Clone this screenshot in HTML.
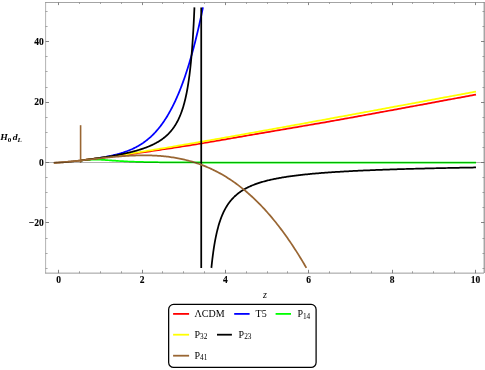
<!DOCTYPE html>
<html><head><meta charset="utf-8"><title>plot</title>
<style>html,body{margin:0;padding:0;background:#fff;font-family:"Liberation Serif",serif;}svg{display:block;will-change:transform}</style></head>
<body>
<svg width="485" height="370" viewBox="0 0 485 370">
<rect width="485" height="370" fill="#fff"/>
<path d="M80.79,160.43L82.77,160.20L84.76,159.96L86.74,159.72L88.73,159.47L90.72,159.22L92.70,158.97L94.69,158.71L96.67,158.45L98.66,158.19L100.65,157.93L102.63,157.69L104.62,157.45L106.60,157.21L108.59,156.97L110.58,156.73L112.56,156.49L114.55,156.24L116.53,156.00L118.52,155.74L120.51,155.48L122.49,155.22L124.48,154.95L126.46,154.68L128.45,154.40L130.44,154.13L132.42,153.85L134.41,153.57L136.39,153.28L138.38,153.00L140.37,152.71L142.35,152.43L144.34,152.14L146.32,151.85L148.31,151.56L150.30,151.26L152.28,150.97L154.27,150.68L156.25,150.39L158.24,150.09L160.23,149.80L162.21,149.50L164.20,149.21L166.18,148.91L168.17,148.62L170.16,148.32L172.14,148.02L174.13,147.72L176.11,147.42L178.10,147.12L180.09,146.82L182.07,146.51L184.06,146.20L186.04,145.89L188.03,145.58L190.02,145.27L192.00,144.95L193.99,144.64L195.97,144.32L197.96,143.99L199.95,143.67L201.93,143.34L203.92,143.01L205.90,142.67L207.89,142.34L209.88,142.00L211.86,141.67L213.85,141.33L215.83,140.99L217.82,140.65L219.81,140.31L221.79,139.96L223.78,139.62L225.76,139.28L227.75,138.94L229.74,138.59L231.72,138.25L233.71,137.91L235.69,137.56L237.68,137.22L239.67,136.88L241.65,136.53L243.64,136.19L245.62,135.85L247.61,135.51L249.60,135.17L251.58,134.83L253.57,134.49L255.55,134.15L257.54,133.81L259.53,133.47L261.51,133.13L263.50,132.79L265.48,132.46L267.47,132.12L269.46,131.78L271.44,131.44L273.43,131.10L275.41,130.76L277.40,130.42L279.39,130.08L281.37,129.74L283.36,129.40L285.34,129.06L287.33,128.72L289.32,128.38L291.30,128.04L293.29,127.70L295.27,127.36L297.26,127.02L299.25,126.68L301.23,126.34L303.22,126.00L305.20,125.66L307.19,125.32L309.18,124.99L311.16,124.65L313.15,124.31L315.13,123.97L317.12,123.64L319.11,123.30L321.09,122.95L323.08,122.61L325.06,122.27L327.05,121.92L329.04,121.57L331.02,121.22L333.01,120.87L334.99,120.51L336.98,120.16L338.97,119.80L340.95,119.44L342.94,119.08L344.92,118.73L346.91,118.37L348.90,118.01L350.88,117.65L352.87,117.29L354.85,116.93L356.84,116.57L358.83,116.21L360.81,115.85L362.80,115.49L364.78,115.12L366.77,114.76L368.76,114.40L370.74,114.04L372.73,113.68L374.71,113.31L376.70,112.95L378.69,112.58L380.67,112.22L382.66,111.86L384.64,111.49L386.63,111.13L388.62,110.76L390.60,110.39L392.59,110.03L394.57,109.66L396.56,109.30L398.55,108.93L400.53,108.56L402.52,108.20L404.50,107.83L406.49,107.46L408.48,107.10L410.46,106.73L412.45,106.36L414.43,105.99L416.42,105.63L418.41,105.26L420.39,104.89L422.38,104.52L424.36,104.16L426.35,103.79L428.34,103.42L430.32,103.05L432.31,102.68L434.29,102.31L436.28,101.95L438.27,101.58L440.25,101.21L442.24,100.84L444.22,100.47L446.21,100.10L448.20,99.73L450.18,99.36L452.17,98.99L454.15,98.63L456.14,98.26L458.13,97.89L460.11,97.52L462.10,97.15L464.08,96.78L466.07,96.41L468.06,96.04L470.04,95.67L472.03,95.30L474.01,94.92L476.00,94.55" stroke="#ff0000" stroke-width="1.75" fill="none" stroke-linejoin="round"/>
<path d="M80.79,160.42L81.40,160.35L82.01,160.28L82.63,160.20L83.24,160.13L83.86,160.06L84.47,159.98L85.08,159.90L85.70,159.83L86.31,159.75L86.93,159.67L87.54,159.59L88.15,159.51L88.77,159.43L89.38,159.35L90.00,159.27L90.61,159.19L91.22,159.10L91.84,159.02L92.45,158.93L93.07,158.85L93.68,158.76L94.29,158.67L94.91,158.58L95.52,158.49L96.14,158.40L96.75,158.31L97.36,158.21L97.98,158.12L98.59,158.02L99.21,157.92L99.82,157.83L100.43,157.73L101.05,157.62L101.66,157.52L102.28,157.42L102.89,157.31L103.50,157.20L104.12,157.10L104.73,156.99L105.35,156.87L105.96,156.76L106.57,156.64L107.19,156.52L107.80,156.40L108.42,156.28L109.03,156.16L109.64,156.03L110.26,155.90L110.87,155.77L111.48,155.64L112.10,155.50L112.71,155.37L113.33,155.22L113.94,155.08L114.55,154.93L115.17,154.78L115.78,154.63L116.40,154.48L117.01,154.32L117.62,154.16L118.24,153.99L118.85,153.82L119.47,153.65L120.08,153.47L120.69,153.29L121.31,153.11L121.92,152.92L122.54,152.73L123.15,152.53L123.76,152.33L124.38,152.12L124.99,151.91L125.61,151.70L126.22,151.48L126.83,151.25L127.45,151.02L128.06,150.79L128.68,150.55L129.29,150.30L129.90,150.05L130.52,149.79L131.13,149.52L131.75,149.25L132.36,148.98L132.97,148.69L133.59,148.40L134.20,148.10L134.82,147.80L135.43,147.49L136.04,147.17L136.66,146.84L137.27,146.51L137.89,146.17L138.50,145.82L139.11,145.46L139.73,145.09L140.34,144.71L140.96,144.33L141.57,143.93L142.18,143.53L142.80,143.12L143.41,142.69L144.03,142.26L144.64,141.82L145.25,141.36L145.87,140.90L146.48,140.43L147.10,139.94L147.71,139.44L148.32,138.93L148.94,138.41L149.55,137.88L150.17,137.33L150.78,136.78L151.39,136.20L152.01,135.62L152.62,135.02L153.24,134.41L153.85,133.79L154.46,133.15L155.08,132.50L155.69,131.83L156.31,131.14L156.92,130.45L157.53,129.73L158.15,129.00L158.76,128.26L159.38,127.49L159.99,126.71L160.60,125.92L161.22,125.10L161.83,124.27L162.45,123.42L163.06,122.55L163.67,121.66L164.29,120.76L164.90,119.83L165.52,118.89L166.13,117.92L166.74,116.93L167.36,115.93L167.97,114.90L168.59,113.85L169.20,112.78L169.81,111.68L170.43,110.57L171.04,109.43L171.66,108.26L172.27,107.08L172.88,105.86L173.50,104.63L174.11,103.37L174.73,102.08L175.34,100.77L175.95,99.43L176.57,98.07L177.18,96.67L177.80,95.25L178.41,93.81L179.02,92.33L179.64,90.82L180.25,89.29L180.87,87.73L181.48,86.13L182.09,84.51L182.71,82.85L183.32,81.16L183.94,79.44L184.55,77.69L185.16,75.91L185.78,74.09L186.39,72.23L187.01,70.35L187.62,68.42L188.23,66.47L188.85,64.47L189.46,62.44L190.08,60.37L190.69,58.27L191.30,56.13L191.92,53.94L192.53,51.72L193.15,49.46L193.76,47.16L194.37,44.82L194.99,42.44L195.60,40.01L196.22,37.54L196.83,35.03L197.44,32.48L198.06,29.88L198.67,27.23L199.29,24.54L199.90,21.81L200.51,19.02L201.13,16.19L201.74,13.31L202.36,10.39L202.97,7.41" stroke="#0000ff" stroke-width="1.75" fill="none" stroke-linejoin="round"/>
<path d="M80.79,160.49L82.11,160.36L83.43,160.24L84.75,160.12L86.07,160.01L87.39,159.92L88.72,159.83L90.04,159.76L91.36,159.70L92.68,159.66L94.00,159.64L95.32,159.63L96.65,159.64L97.97,159.66L99.29,159.70L100.61,159.75L101.93,159.81L103.26,159.89L104.58,159.97L105.90,160.06L107.22,160.15L108.54,160.25L109.86,160.35L111.19,160.45L112.51,160.54L113.83,160.64L115.15,160.73L116.47,160.83L117.80,160.91L119.12,161.00L120.44,161.08L121.76,161.16L123.08,161.23L124.40,161.31L125.73,161.37L127.05,161.44L128.37,161.50L129.69,161.56L131.01,161.61L132.33,161.66L133.66,161.71L134.98,161.75L136.30,161.80L137.62,161.84L138.94,161.88L140.27,161.91L141.59,161.95L142.91,161.98L144.23,162.01L145.55,162.04L146.87,162.07L148.20,162.09L149.52,162.12L150.84,162.14L152.16,162.16L153.48,162.18L154.81,162.20L156.13,162.22L157.45,162.24L158.77,162.25L160.09,162.27L161.41,162.29L162.74,162.30L164.06,162.31L165.38,162.33L166.70,162.34L168.02,162.35L169.34,162.36L170.67,162.37L171.99,162.38L173.31,162.38L174.63,162.39L175.95,162.40L177.28,162.41L178.60,162.41L179.92,162.42L181.24,162.43L182.56,162.43L183.88,162.44L185.21,162.45L186.53,162.45L187.85,162.46L189.17,162.46L190.49,162.47L191.82,162.47L193.14,162.47L194.46,162.48L195.78,162.48L197.10,162.49L198.42,162.49L199.75,162.49L201.07,162.50L202.39,162.50L203.71,162.50L205.03,162.51L206.36,162.51L207.68,162.51L209.00,162.52L210.32,162.52L211.64,162.52L212.96,162.52L214.29,162.53L215.61,162.53L216.93,162.53L218.25,162.53L219.57,162.53L220.89,162.54L222.22,162.54L223.54,162.54L224.86,162.54L226.18,162.54L227.50,162.54L228.83,162.55L230.15,162.55L231.47,162.55L232.79,162.55L234.11,162.55L235.43,162.55L236.76,162.56L238.08,162.56L239.40,162.56L240.72,162.56L242.04,162.56L243.37,162.56L244.69,162.56L246.01,162.56L247.33,162.56L248.65,162.57L249.97,162.57L251.30,162.57L252.62,162.57L253.94,162.57L255.26,162.57L256.58,162.57L257.90,162.57L259.23,162.57L260.55,162.57L261.87,162.57L263.19,162.57L264.51,162.58L265.84,162.58L267.16,162.58L268.48,162.58L269.80,162.58L271.12,162.58L272.44,162.58L273.77,162.58L275.09,162.58L276.41,162.58L277.73,162.58L279.05,162.58L280.38,162.58L281.70,162.58L283.02,162.58L284.34,162.58L285.66,162.58L286.98,162.59L288.31,162.59L289.63,162.59L290.95,162.59L292.27,162.59L293.59,162.59L294.91,162.59L296.24,162.59L297.56,162.59L298.88,162.59L300.20,162.59L301.52,162.59L302.85,162.59L304.17,162.59L305.49,162.59L306.81,162.59L308.13,162.59L309.45,162.59L310.78,162.59L312.10,162.59L313.42,162.59L314.74,162.59L316.06,162.59L317.39,162.59L318.71,162.59L320.03,162.59L321.35,162.59L322.67,162.59L323.99,162.59L325.32,162.59L326.64,162.59L327.96,162.60L329.28,162.60L330.60,162.60L331.93,162.60L333.25,162.60L334.57,162.60L335.89,162.60L337.21,162.60L338.53,162.60L339.86,162.60L341.18,162.60L342.50,162.60L343.82,162.60L345.14,162.60L346.46,162.60L347.79,162.60L349.11,162.60L350.43,162.60L351.75,162.60L353.07,162.60L354.40,162.60L355.72,162.60L357.04,162.60L358.36,162.60L359.68,162.60L361.00,162.60L362.33,162.60L363.65,162.60L364.97,162.60L366.29,162.60L367.61,162.60L368.94,162.60L370.26,162.60L371.58,162.60L372.90,162.60L374.22,162.60L375.54,162.60L376.87,162.60L378.19,162.60L379.51,162.60L380.83,162.60L382.15,162.60L383.47,162.60L384.80,162.60L386.12,162.60L387.44,162.60L388.76,162.60L390.08,162.60L391.41,162.60L392.73,162.60L394.05,162.60L395.37,162.60L396.69,162.60L398.01,162.60L399.34,162.60L400.66,162.60L401.98,162.60L403.30,162.60L404.62,162.60L405.95,162.60L407.27,162.60L408.59,162.60L409.91,162.60L411.23,162.60L412.55,162.60L413.88,162.60L415.20,162.60L416.52,162.60L417.84,162.60L419.16,162.60L420.48,162.60L421.81,162.60L423.13,162.60L424.45,162.60L425.77,162.60L427.09,162.60L428.42,162.60L429.74,162.60L431.06,162.60L432.38,162.60L433.70,162.60L435.02,162.60L436.35,162.60L437.67,162.60L438.99,162.60L440.31,162.61L441.63,162.61L442.96,162.61L444.28,162.61L445.60,162.61L446.92,162.61L448.24,162.61L449.56,162.61L450.89,162.61L452.21,162.61L453.53,162.61L454.85,162.61L456.17,162.61L457.49,162.61L458.82,162.61L460.14,162.61L461.46,162.61L462.78,162.61L464.10,162.61L465.43,162.61L466.75,162.61L468.07,162.61L469.39,162.61L470.71,162.61L472.03,162.61L473.36,162.61L474.68,162.61L476.00,162.61" stroke="#00ff00" stroke-width="1.75" fill="none" stroke-linejoin="round"/>
<path d="M80.79,160.43L82.77,160.20L84.76,159.96L86.74,159.72L88.73,159.47L90.72,159.22L92.70,158.97L94.69,158.71L96.67,158.44L98.66,158.18L100.65,157.91L102.63,157.63L104.62,157.36L106.60,157.08L108.59,156.80L110.58,156.51L112.56,156.22L114.55,155.93L116.53,155.64L118.52,155.34L120.51,155.05L122.49,154.75L124.48,154.44L126.46,154.14L128.45,153.84L130.44,153.53L132.42,153.22L134.41,152.91L136.39,152.59L138.38,152.28L140.37,151.96L142.35,151.65L144.34,151.33L146.32,151.01L148.31,150.69L150.30,150.36L152.28,150.04L154.27,149.72L156.25,149.39L158.24,149.06L160.23,148.73L162.21,148.40L164.20,148.07L166.18,147.74L168.17,147.41L170.16,147.08L172.14,146.74L174.13,146.41L176.11,146.07L178.10,145.73L180.09,145.40L182.07,145.06L184.06,144.72L186.04,144.38L188.03,144.04L190.02,143.70L192.00,143.36L193.99,143.01L195.97,142.67L197.96,142.33L199.95,141.98L201.93,141.64L203.92,141.29L205.90,140.95L207.89,140.60L209.88,140.25L211.86,139.91L213.85,139.56L215.83,139.21L217.82,138.86L219.81,138.51L221.79,138.16L223.78,137.81L225.76,137.46L227.75,137.11L229.74,136.76L231.72,136.40L233.71,136.05L235.69,135.70L237.68,135.34L239.67,134.99L241.65,134.64L243.64,134.28L245.62,133.93L247.61,133.57L249.60,133.22L251.58,132.86L253.57,132.51L255.55,132.15L257.54,131.79L259.53,131.44L261.51,131.08L263.50,130.72L265.48,130.36L267.47,130.01L269.46,129.65L271.44,129.29L273.43,128.93L275.41,128.57L277.40,128.21L279.39,127.85L281.37,127.49L283.36,127.13L285.34,126.77L287.33,126.41L289.32,126.05L291.30,125.69L293.29,125.33L295.27,124.97L297.26,124.61L299.25,124.25L301.23,123.88L303.22,123.52L305.20,123.16L307.19,122.80L309.18,122.43L311.16,122.07L313.15,121.71L315.13,121.35L317.12,120.98L319.11,120.62L321.09,120.26L323.08,119.89L325.06,119.53L327.05,119.16L329.04,118.80L331.02,118.44L333.01,118.07L334.99,117.71L336.98,117.34L338.97,116.98L340.95,116.61L342.94,116.25L344.92,115.88L346.91,115.52L348.90,115.15L350.88,114.78L352.87,114.42L354.85,114.05L356.84,113.69L358.83,113.32L360.81,112.95L362.80,112.59L364.78,112.22L366.77,111.85L368.76,111.49L370.74,111.12L372.73,110.75L374.71,110.39L376.70,110.02L378.69,109.65L380.67,109.28L382.66,108.92L384.64,108.55L386.63,108.18L388.62,107.81L390.60,107.45L392.59,107.08L394.57,106.71L396.56,106.34L398.55,105.97L400.53,105.60L402.52,105.24L404.50,104.87L406.49,104.50L408.48,104.13L410.46,103.76L412.45,103.39L414.43,103.02L416.42,102.66L418.41,102.29L420.39,101.92L422.38,101.55L424.36,101.18L426.35,100.81L428.34,100.44L430.32,100.07L432.31,99.70L434.29,99.33L436.28,98.96L438.27,98.59L440.25,98.22L442.24,97.85L444.22,97.48L446.21,97.11L448.20,96.74L450.18,96.37L452.17,96.00L454.15,95.63L456.14,95.26L458.13,94.89L460.11,94.52L462.10,94.15L464.08,93.78L466.07,93.41L468.06,93.04L470.04,92.67L472.03,92.30L474.01,91.93L476.00,91.55" stroke="#ffff00" stroke-width="1.75" fill="none" stroke-linejoin="round"/>
<path d="M80.79,160.43L81.17,160.38L81.55,160.34L81.93,160.29L82.31,160.25L82.69,160.20L83.07,160.16L83.45,160.11L83.83,160.07L84.21,160.02L84.59,159.97L84.97,159.93L85.35,159.88L85.73,159.83L86.11,159.79L86.49,159.74L86.87,159.69L87.25,159.64L87.63,159.60L88.01,159.55L88.39,159.50L88.77,159.45L89.15,159.40L89.53,159.35L89.91,159.30L90.29,159.25L90.67,159.20L91.05,159.15L91.43,159.10L91.81,159.05L92.19,159.00L92.57,158.95L92.95,158.90L93.33,158.85L93.71,158.80L94.09,158.75L94.47,158.69L94.85,158.64L95.23,158.59L95.61,158.54L95.99,158.48L96.37,158.43L96.75,158.38L97.13,158.32L97.51,158.27L97.89,158.21L98.27,158.16L98.65,158.11L99.03,158.05L99.41,158.00L99.79,157.94L100.17,157.88L100.55,157.83L100.93,157.77L101.31,157.72L101.69,157.66L102.07,157.60L102.45,157.54L102.83,157.49L103.21,157.43L103.59,157.37L103.97,157.31L104.35,157.25L104.73,157.19L105.11,157.13L105.49,157.07L105.87,157.01L106.25,156.95L106.63,156.89L107.01,156.83L107.39,156.77L107.77,156.71L108.15,156.65L108.53,156.58L108.91,156.52L109.29,156.46L109.68,156.40L110.06,156.33L110.44,156.27L110.82,156.20L111.20,156.14L111.58,156.07L111.96,156.01L112.34,155.94L112.72,155.88L113.10,155.81L113.48,155.74L113.86,155.67L114.24,155.61L114.62,155.54L115.00,155.47L115.38,155.40L115.76,155.33L116.14,155.26L116.52,155.19L116.90,155.12L117.28,155.05L117.66,154.97L118.04,154.90L118.42,154.83L118.80,154.76L119.18,154.68L119.56,154.61L119.94,154.53L120.32,154.46L120.70,154.38L121.08,154.30L121.46,154.23L121.84,154.15L122.22,154.07L122.60,153.99L122.98,153.91L123.36,153.83L123.74,153.75L124.12,153.67L124.50,153.59L124.88,153.51L125.26,153.43L125.64,153.34L126.02,153.26L126.40,153.17L126.78,153.09L127.16,153.00L127.54,152.91L127.92,152.83L128.30,152.74L128.68,152.65L129.06,152.56L129.44,152.47L129.82,152.38L130.20,152.28L130.58,152.19L130.96,152.10L131.34,152.00L131.72,151.91L132.10,151.81L132.48,151.71L132.86,151.61L133.24,151.51L133.62,151.41L134.00,151.31L134.38,151.21L134.76,151.11L135.14,151.00L135.52,150.90L135.90,150.79L136.28,150.69L136.66,150.58L137.04,150.47L137.42,150.36L137.80,150.25L138.18,150.13L138.56,150.02L138.95,149.91L139.33,149.79L139.71,149.67L140.09,149.55L140.47,149.43L140.85,149.31L141.23,149.19L141.61,149.07L141.99,148.94L142.37,148.81L142.75,148.68L143.13,148.55L143.51,148.42L143.89,148.29L144.27,148.16L144.65,148.02L145.03,147.88L145.41,147.74L145.79,147.60L146.17,147.46L146.55,147.31L146.93,147.17L147.31,147.02L147.69,146.87L148.07,146.72L148.45,146.56L148.83,146.41L149.21,146.25L149.59,146.09L149.97,145.92L150.35,145.76L150.73,145.59L151.11,145.42L151.49,145.25L151.87,145.08L152.25,144.90L152.63,144.72L153.01,144.54L153.39,144.35L153.77,144.17L154.15,143.97L154.53,143.78L154.91,143.59L155.29,143.39L155.67,143.18L156.05,142.98L156.43,142.77L156.81,142.56L157.19,142.34L157.57,142.12L157.95,141.90L158.33,141.67L158.71,141.44L159.09,141.21L159.47,140.97L159.85,140.72L160.23,140.48L160.61,140.23L160.99,139.97L161.37,139.71L161.75,139.44L162.13,139.17L162.51,138.90L162.89,138.62L163.27,138.33L163.65,138.04L164.03,137.74L164.41,137.44L164.79,137.13L165.17,136.81L165.55,136.49L165.93,136.16L166.31,135.82L166.69,135.48L167.07,135.13L167.45,134.77L167.84,134.40L168.22,134.03L168.60,133.64L168.98,133.25L169.36,132.85L169.74,132.44L170.12,132.02L170.50,131.59L170.88,131.15L171.26,130.69L171.64,130.23L172.02,129.75L172.40,129.27L172.78,128.76L173.16,128.25L173.54,127.72L173.92,127.18L174.30,126.62L174.68,126.05L175.06,125.46L175.44,124.85L175.82,124.22L176.20,123.58L176.58,122.92L176.96,122.23L177.34,121.53L177.72,120.80L178.10,120.04L178.48,119.27L178.86,118.46L179.24,117.63L179.62,116.77L180.00,115.88L180.38,114.96L180.76,114.00L181.14,113.01L181.52,111.97L181.90,110.90L182.28,109.79L182.66,108.62L183.04,107.42L183.42,106.15L183.80,104.84L184.18,103.46L184.56,102.02L184.94,100.52L185.32,98.94L185.70,97.29L186.08,95.55L186.46,93.72L186.84,91.80L187.22,89.77L187.60,87.63L187.98,85.36L188.36,82.96L188.74,80.41L189.12,77.70L189.50,74.81L189.88,71.73L190.26,68.43L190.64,64.90L191.02,61.10L191.40,57.00L191.78,52.56L192.16,47.76L192.54,42.52L192.92,36.80L193.30,30.53L193.68,23.61L194.06,15.95L194.44,7.41" stroke="#000" stroke-width="1.75" fill="none" stroke-linejoin="round"/>
<path d="M201.23,7.4L201.23,267.9" stroke="#000" stroke-width="1.75" fill="none"/>
<path d="M211.39,267.89L211.40,267.86L211.40,267.77L211.42,267.62L211.44,267.42L211.47,267.15L211.50,266.83L211.54,266.46L211.58,266.03L211.63,265.55L211.69,265.01L211.75,264.43L211.82,263.80L211.89,263.12L211.97,262.40L212.06,261.64L212.15,260.83L212.25,259.99L212.35,259.12L212.46,258.21L212.58,257.27L212.70,256.31L212.82,255.32L212.96,254.30L213.10,253.27L213.24,252.21L213.39,251.14L213.55,250.06L213.71,248.96L213.88,247.85L214.06,246.73L214.24,245.61L214.42,244.48L214.62,243.35L214.81,242.22L215.02,241.08L215.23,239.95L215.44,238.82L215.67,237.69L215.89,236.57L216.13,235.46L216.37,234.35L216.61,233.25L216.86,232.16L217.12,231.08L217.39,230.01L217.66,228.95L217.93,227.91L218.21,226.87L218.50,225.85L218.79,224.84L219.09,223.84L219.40,222.86L219.71,221.89L220.02,220.94L220.35,220.00L220.67,219.07L221.01,218.16L221.35,217.27L221.70,216.38L222.05,215.52L222.41,214.66L222.77,213.83L223.14,213.00L223.52,212.20L223.90,211.40L224.29,210.62L224.68,209.86L225.08,209.11L225.48,208.37L225.90,207.64L226.31,206.93L226.74,206.24L227.16,205.55L227.60,204.88L228.04,204.23L228.49,203.58L228.94,202.95L229.40,202.33L229.86,201.72L230.33,201.12L230.81,200.54L231.29,199.96L231.78,199.40L232.28,198.85L232.78,198.31L233.28,197.78L233.79,197.26L234.31,196.75L234.84,196.25L235.37,195.76L235.90,195.28L236.44,194.81L236.99,194.35L237.54,193.89L238.10,193.45L238.67,193.01L239.24,192.59L239.82,192.17L240.40,191.76L240.99,191.35L241.59,190.96L242.19,190.57L242.79,190.19L243.41,189.82L244.02,189.45L244.65,189.09L245.28,188.74L245.92,188.39L246.56,188.05L247.21,187.72L247.86,187.39L248.52,187.07L249.19,186.75L249.86,186.45L250.54,186.14L251.22,185.84L251.91,185.55L252.60,185.26L253.31,184.98L254.01,184.70L254.73,184.43L255.45,184.16L256.17,183.90L256.90,183.64L257.64,183.39L258.38,183.14L259.13,182.89L259.89,182.65L260.65,182.42L261.41,182.18L262.19,181.96L262.96,181.73L263.75,181.51L264.54,181.29L265.33,181.08L266.14,180.87L266.94,180.66L267.76,180.46L268.58,180.26L269.40,180.06L270.24,179.87L271.07,179.68L271.92,179.49L272.77,179.31L273.62,179.13L274.48,178.95L275.35,178.78L276.22,178.60L277.10,178.43L277.99,178.27L278.88,178.10L279.78,177.94L280.68,177.78L281.59,177.62L282.50,177.47L283.42,177.32L284.35,177.17L285.28,177.02L286.22,176.87L287.16,176.73L288.11,176.59L289.07,176.45L290.03,176.31L291.00,176.18L291.97,176.04L292.95,175.91L293.94,175.78L294.93,175.66L295.93,175.53L296.93,175.41L297.94,175.28L298.95,175.16L299.98,175.05L301.00,174.93L302.04,174.81L303.07,174.70L304.12,174.59L305.17,174.48L306.23,174.37L307.29,174.26L308.36,174.15L309.43,174.05L310.51,173.95L311.60,173.84L312.69,173.74L313.79,173.64L314.89,173.55L316.00,173.45L317.12,173.36L318.24,173.26L319.37,173.17L320.50,173.08L321.64,172.99L322.79,172.90L323.94,172.81L325.10,172.72L326.26,172.64L327.43,172.55L328.60,172.47L329.78,172.38L330.97,172.30L332.16,172.22L333.36,172.14L334.57,172.06L335.78,171.99L336.99,171.91L338.22,171.83L339.44,171.76L340.68,171.68L341.92,171.61L343.16,171.54L344.42,171.47L345.67,171.40L346.94,171.33L348.21,171.26L349.48,171.19L350.77,171.12L352.05,171.06L353.35,170.99L354.65,170.93L355.95,170.86L357.26,170.80L358.58,170.73L359.90,170.67L361.23,170.61L362.57,170.55L363.91,170.49L365.25,170.43L366.61,170.37L367.96,170.31L369.33,170.26L370.70,170.20L372.08,170.14L373.46,170.09L374.85,170.03L376.24,169.98L377.64,169.93L379.05,169.87L380.46,169.82L381.88,169.77L383.30,169.72L384.73,169.66L386.16,169.61L387.61,169.56L389.05,169.52L390.51,169.47L391.97,169.42L393.43,169.37L394.90,169.32L396.38,169.28L397.86,169.23L399.35,169.18L400.85,169.14L402.35,169.09L403.85,169.05L405.36,169.00L406.88,168.96L408.41,168.92L409.94,168.88L411.47,168.83L413.02,168.79L414.56,168.75L416.12,168.71L417.68,168.67L419.24,168.63L420.81,168.59L422.39,168.55L423.98,168.51L425.57,168.47L427.16,168.43L428.76,168.39L430.37,168.36L431.98,168.32L433.60,168.28L435.23,168.25L436.86,168.21L438.49,168.17L440.14,168.14L441.78,168.10L443.44,168.07L445.10,168.03L446.77,168.00L448.44,167.97L450.12,167.93L451.80,167.90L453.49,167.87L455.19,167.83L456.89,167.80L458.60,167.77L460.31,167.74L462.03,167.70L463.76,167.67L465.49,167.64L467.22,167.61L468.97,167.58L470.72,167.55L472.47,167.52L474.23,167.49L476.00,167.46" stroke="#000" stroke-width="1.75" fill="none" stroke-linejoin="round"/>
<path d="M53.80,162.88L54.83,162.82L55.86,162.76L56.89,162.69L57.92,162.62L58.96,162.54L59.99,162.47L61.02,162.39L62.05,162.31L63.08,162.22L64.11,162.14L65.14,162.05L66.17,161.96L67.20,161.87L68.24,161.77L69.27,161.67L70.30,161.58L71.33,161.48L72.36,161.37L73.39,161.27L74.42,161.17L75.45,161.06L76.48,160.95L77.52,160.84L78.55,160.73L79.58,160.62L80.61,160.51L81.64,160.40L82.67,160.28L83.70,160.17" stroke="#8a5c2e" stroke-width="1.9" fill="none"/>
<path d="M53.80,162.88L55.07,162.81L56.34,162.72L57.61,162.64L58.88,162.55L60.15,162.46L61.42,162.36L62.68,162.26L63.95,162.15L65.22,162.04L66.49,161.93L67.76,161.81L69.03,161.70L70.30,161.58L71.57,161.45L72.84,161.33L74.11,161.20L75.38,161.07L76.65,160.94L77.91,160.80L79.18,160.67L80.45,160.53L81.72,160.39L82.99,160.25L84.26,160.11L85.53,159.97L86.80,159.82L88.07,159.68L89.34,159.54L90.61,159.39L91.88,159.25L93.15,159.11L94.41,158.96L95.68,158.82L96.95,158.68L98.22,158.54L99.49,158.40L100.76,158.26L102.03,158.12L103.30,157.98L104.57,157.85L105.84,157.72L107.11,157.58L108.38,157.46L109.64,157.33L110.91,157.20L112.18,157.08L113.45,156.96L114.72,156.85L115.99,156.73L117.26,156.62L118.53,156.52L119.80,156.41L121.07,156.31L122.34,156.22L123.61,156.13L124.87,156.04L126.14,155.96L127.41,155.88L128.68,155.81L129.95,155.74L131.22,155.67L132.49,155.61L133.76,155.56L135.03,155.51L136.30,155.47L137.57,155.44L138.84,155.41L140.11,155.38L141.37,155.36L142.64,155.35L143.91,155.35L145.18,155.35L146.45,155.36L147.72,155.38L148.99,155.40L150.26,155.43L151.53,155.47L152.80,155.51L154.07,155.57L155.34,155.63L156.60,155.70L157.87,155.78L159.14,155.87L160.41,155.97L161.68,156.07L162.95,156.19L164.22,156.31L165.49,156.44L166.76,156.59L168.03,156.74L169.30,156.90L170.57,157.07L171.84,157.26L173.10,157.45L174.37,157.65L175.64,157.87L176.91,158.09L178.18,158.33L179.45,158.58L180.72,158.84L181.99,159.11L183.26,159.39L184.53,159.68L185.80,159.99L187.07,160.31L188.33,160.64L189.60,160.98L190.87,161.34L192.14,161.71L193.41,162.09L194.68,162.48L195.95,162.89L197.22,163.31L198.49,163.75L199.76,164.20L201.03,164.66L202.30,165.14L203.57,165.63L204.83,166.13L206.10,166.65L207.37,167.19L208.64,167.74L209.91,168.30L211.18,168.88L212.45,169.48L213.72,170.09L214.99,170.72L216.26,171.36L217.53,172.02L218.80,172.70L220.06,173.39L221.33,174.10L222.60,174.83L223.87,175.57L225.14,176.33L226.41,177.10L227.68,177.90L228.95,178.71L230.22,179.54L231.49,180.39L232.76,181.25L234.03,182.13L235.30,183.04L236.56,183.96L237.83,184.90L239.10,185.85L240.37,186.83L241.64,187.83L242.91,188.84L244.18,189.88L245.45,190.93L246.72,192.01L247.99,193.10L249.26,194.22L250.53,195.35L251.79,196.51L253.06,197.68L254.33,198.88L255.60,200.10L256.87,201.34L258.14,202.60L259.41,203.88L260.68,205.18L261.95,206.51L263.22,207.86L264.49,209.22L265.76,210.62L267.02,212.03L268.29,213.47L269.56,214.93L270.83,216.41L272.10,217.91L273.37,219.44L274.64,221.00L275.91,222.57L277.18,224.17L278.45,225.79L279.72,227.44L280.99,229.11L282.26,230.81L283.52,232.53L284.79,234.28L286.06,236.05L287.33,237.84L288.60,239.66L289.87,241.51L291.14,243.38L292.41,245.28L293.68,247.20L294.95,249.15L296.22,251.12L297.49,253.12L298.75,255.15L300.02,257.21L301.29,259.29L302.56,261.40L303.83,263.53L305.10,265.70L306.37,267.89" stroke="#996633" stroke-width="1.75" fill="none" stroke-linejoin="round"/>
<path d="M80.6,162.6L80.6,125.2" stroke="#996633" stroke-width="1.6" fill="none"/>
<path d="M45.6,162.5L484.3,162.5" stroke="#000" stroke-opacity="0.3" stroke-width="1" fill="none"/>
<path d="M45.30,2.5L484.60,2.5" stroke="#666" stroke-width="0.6" fill="none"/>
<path d="M45.60,2.2L45.60,273.5" stroke="#666" stroke-width="0.5" fill="none"/>
<path d="M484.2,2.2L484.2,273.0" stroke="#666" stroke-width="0.85" fill="none"/>
<path d="M45.35,273.13L484.0,273.13" stroke="#666" stroke-width="0.66" fill="none"/>
<path d="M58.50,273.20L58.50,269.80M58.50,2.50L58.50,5.10M142.50,273.20L142.50,269.80M142.50,2.50L142.50,5.10M225.50,273.20L225.50,269.80M225.50,2.50L225.50,5.10M308.50,273.20L308.50,269.80M308.50,2.50L308.50,5.10M392.50,273.20L392.50,269.80M392.50,2.50L392.50,5.10M475.50,273.20L475.50,269.80M475.50,2.50L475.50,5.10M45.60,222.50L49.00,222.50M484.30,222.50L481.00,222.50M45.60,162.50L49.00,162.50M484.30,162.50L481.00,162.50M45.60,102.50L49.00,102.50M484.30,102.50L481.00,102.50M45.60,41.50L49.00,41.50M484.30,41.50L481.00,41.50" stroke="#666" stroke-opacity="0.8" stroke-width="1" fill="none"/>
<path d="M79.50,273.20L79.50,271.20M79.50,2.50L79.50,4.00M100.50,273.20L100.50,271.20M100.50,2.50L100.50,4.00M121.50,273.20L121.50,271.20M121.50,2.50L121.50,4.00M162.50,273.20L162.50,271.20M162.50,2.50L162.50,4.00M183.50,273.20L183.50,271.20M183.50,2.50L183.50,4.00M204.50,273.20L204.50,271.20M204.50,2.50L204.50,4.00M246.50,273.20L246.50,271.20M246.50,2.50L246.50,4.00M267.50,273.20L267.50,271.20M267.50,2.50L267.50,4.00M287.50,273.20L287.50,271.20M287.50,2.50L287.50,4.00M329.50,273.20L329.50,271.20M329.50,2.50L329.50,4.00M350.50,273.20L350.50,271.20M350.50,2.50L350.50,4.00M371.50,273.20L371.50,271.20M371.50,2.50L371.50,4.00M412.50,273.20L412.50,271.20M412.50,2.50L412.50,4.00M433.50,273.20L433.50,271.20M433.50,2.50L433.50,4.00M454.50,273.20L454.50,271.20M454.50,2.50L454.50,4.00M45.60,268.50L47.60,268.50M484.30,268.50L482.40,268.50M45.60,253.50L47.60,253.50M484.30,253.50L482.40,253.50M45.60,238.50L47.60,238.50M484.30,238.50L482.40,238.50M45.60,207.50L47.60,207.50M484.30,207.50L482.40,207.50M45.60,192.50L47.60,192.50M484.30,192.50L482.40,192.50M45.60,177.50L47.60,177.50M484.30,177.50L482.40,177.50M45.60,147.50L47.60,147.50M484.30,147.50L482.40,147.50M45.60,132.50L47.60,132.50M484.30,132.50L482.40,132.50M45.60,117.50L47.60,117.50M484.30,117.50L482.40,117.50M45.60,87.50L47.60,87.50M484.30,87.50L482.40,87.50M45.60,71.50L47.60,71.50M484.30,71.50L482.40,71.50M45.60,56.50L47.60,56.50M484.30,56.50L482.40,56.50M45.60,26.50L47.60,26.50M484.30,26.50L482.40,26.50M45.60,11.50L47.60,11.50M484.30,11.50L482.40,11.50" stroke="#666" stroke-opacity="0.55" stroke-width="1" fill="none"/>
<text x="58.7" y="282.6" text-anchor="middle" font-family="Liberation Serif" font-weight="bold" font-size="9.5" stroke="#000" stroke-width="0.1">0</text>
<text x="142.0" y="282.6" text-anchor="middle" font-family="Liberation Serif" font-weight="bold" font-size="9.5" stroke="#000" stroke-width="0.1">2</text>
<text x="225.4" y="282.6" text-anchor="middle" font-family="Liberation Serif" font-weight="bold" font-size="9.5" stroke="#000" stroke-width="0.1">4</text>
<text x="308.7" y="282.6" text-anchor="middle" font-family="Liberation Serif" font-weight="bold" font-size="9.5" stroke="#000" stroke-width="0.1">6</text>
<text x="392.1" y="282.6" text-anchor="middle" font-family="Liberation Serif" font-weight="bold" font-size="9.5" stroke="#000" stroke-width="0.1">8</text>
<text x="475.4" y="282.6" text-anchor="middle" font-family="Liberation Serif" font-weight="bold" font-size="9.5" stroke="#000" stroke-width="0.1">10</text>
<text x="43.7" y="226.1" text-anchor="end" font-family="Liberation Serif" font-weight="bold" font-size="9.5" stroke="#000" stroke-width="0.1">−20</text>
<text x="43.7" y="165.7" text-anchor="end" font-family="Liberation Serif" font-weight="bold" font-size="9.5" stroke="#000" stroke-width="0.1">0</text>
<text x="43.7" y="105.3" text-anchor="end" font-family="Liberation Serif" font-weight="bold" font-size="9.5" stroke="#000" stroke-width="0.1">20</text>
<text x="43.7" y="44.9" text-anchor="end" font-family="Liberation Serif" font-weight="bold" font-size="9.5" stroke="#000" stroke-width="0.1">40</text>
<text x="265" y="298.2" text-anchor="middle" font-family="Liberation Serif" font-style="italic" font-size="10">z</text>
<text transform="translate(0.3,139.8) scale(1.13,1)" font-family="Liberation Serif" font-weight="bold" font-style="italic" font-size="8.6">H<tspan font-size="6.3" font-style="normal" dy="2">0</tspan><tspan dy="-2" dx="1.2">d</tspan><tspan font-size="6.3" dy="2">L</tspan></text>
<rect x="168.65" y="304.4" width="147.45" height="63" rx="5" ry="5" fill="#fff" stroke="#000" stroke-width="1.25"/>
<path d="M173.1,313.9L189.1,313.9" stroke="#ff0000" stroke-width="1.8"/>
<text x="194.5" y="316.7" font-family="Liberation Serif" font-size="10">ΛCDM</text>
<path d="M234.2,313.9L249.6,313.9" stroke="#0000ff" stroke-width="1.8"/>
<text x="255.6" y="316.7" font-family="Liberation Serif" font-size="10">T5</text>
<path d="M275.6,313.9L291.0,313.9" stroke="#00ff00" stroke-width="1.8"/>
<text x="297.4" y="316.7" font-family="Liberation Serif" font-size="10">P<tspan font-size="7.3" dy="1.9">14</tspan></text>
<path d="M173.1,334.7L189.1,334.7" stroke="#ffff00" stroke-width="1.8"/>
<text x="194.5" y="337.5" font-family="Liberation Serif" font-size="10">P<tspan font-size="7.3" dy="1.9">32</tspan></text>
<path d="M217.0,334.7L231.9,334.7" stroke="#000" stroke-width="1.8"/>
<text x="238.6" y="337.5" font-family="Liberation Serif" font-size="10">P<tspan font-size="7.3" dy="1.9">23</tspan></text>
<path d="M173.1,355.7L189.1,355.7" stroke="#996633" stroke-width="1.8"/>
<text x="194.5" y="358.5" font-family="Liberation Serif" font-size="10">P<tspan font-size="7.3" dy="1.9">41</tspan></text>
</svg>
</body></html>
